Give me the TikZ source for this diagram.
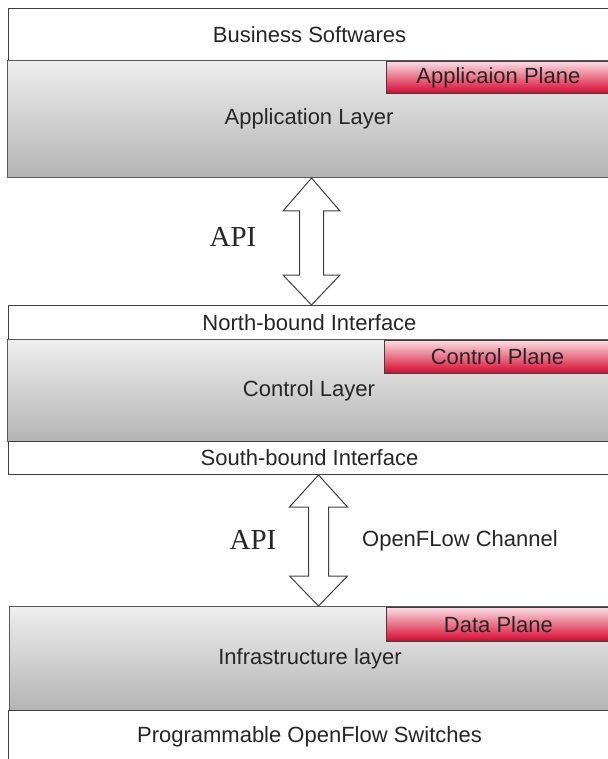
\documentclass[tikz,border=0pt]{standalone}
\usepackage{fontspec}
\setmainfont{Liberation Sans}
\newfontfamily\apifont{Liberation Serif}
\usetikzlibrary{calc}

\definecolor{planetop}{RGB}{250,222,228}
\definecolor{planemid}{RGB}{238,86,112}
\definecolor{planebot}{RGB}{214,6,44}
\definecolor{layertop}{RGB}{238,238,238}
\definecolor{layerbot}{RGB}{180,180,180}

\begin{document}
\begin{tikzpicture}[x=1pt,y=-1pt,
  every node/.style={font=\fontsize{22}{26}\selectfont, text=black!85, inner sep=0pt},
  whitebox/.style={draw=black!75, fill=white, line width=1pt, anchor=north west},
  layerbox/.style={draw=black!65, line width=1pt, anchor=north west, top color=layertop, bottom color=layerbot},
  planebox/.style={draw=black!75, line width=0.8pt, anchor=north west, top color=planetop, middle color=planemid, bottom color=planebot},
  bigarrow/.style={draw=black!75, fill=white, line width=1pt, line join=miter},
  apilabel/.style={font=\apifont\fontsize{29}{32}\selectfont}]
\useasboundingbox (0,0) rectangle (607,759);

% application plane
\node[whitebox, minimum width=602pt, minimum height=52pt] (soft) at (8,8) {Business Softwares};
\node[layerbox, minimum width=603pt, minimum height=117pt] (app) at (7,60) {Application Layer};
\node[planebox, minimum width=224pt, minimum height=32pt] (appplane) at (386,61) {Applicaion Plane};

% control plane
\node[whitebox, minimum width=602pt, minimum height=34pt] (north) at (8,305) {North-bound Interface};
\node[layerbox, minimum width=603pt, minimum height=102pt] (ctrl) at (7,339) {Control Layer};
\node[planebox, minimum width=226pt, minimum height=33pt] (ctrlplane) at (384,340) {Control Plane};
\node[whitebox, minimum width=602pt, minimum height=33pt] (south) at (8,441) {South-bound Interface};

% data plane
\node[layerbox, minimum width=601pt, minimum height=104pt] (infra) at (9,606) {Infrastructure layer};
\node[planebox, minimum width=224pt, minimum height=34pt] (dataplane) at (386,607) {Data Plane};
\node[whitebox, minimum width=602pt, minimum height=52pt] (switches) at (8,710) {Programmable OpenFlow Switches};

% API arrows
\path (app.south) ++(2.5,0) coordinate (tipA);
\path (north.north) ++(2,0) coordinate (tipB);
\draw[bigarrow] (tipA) -- ++(28.5,33) -- ++(-16.5,0) -- ($(tipB)+(12,-30)$) -- ++(16.5,0)
  -- (tipB) -- ++(-28.5,-30) -- ++(16.5,0) -- ($(tipA)+(-12,33)$) -- ++(-16.5,0) -- cycle;
\node[apilabel] (api1) at (233,237) {API};

\path (south.south) ++(9,0) coordinate (tipC);
\path (infra.north) ++(8.5,0) coordinate (tipD);
\draw[bigarrow] (tipC) -- ++(29,32) -- ++(-19,0) -- ($(tipD)+(10,-30)$) -- ++(19,0)
  -- (tipD) -- ++(-29,-30) -- ++(19,0) -- ($(tipC)+(-10,32)$) -- ++(-19,0) -- cycle;
\node[apilabel] (api2) at (253,540) {API};
\node (channel) at (460,541) {OpenFLow Channel};
\end{tikzpicture}
\end{document}
